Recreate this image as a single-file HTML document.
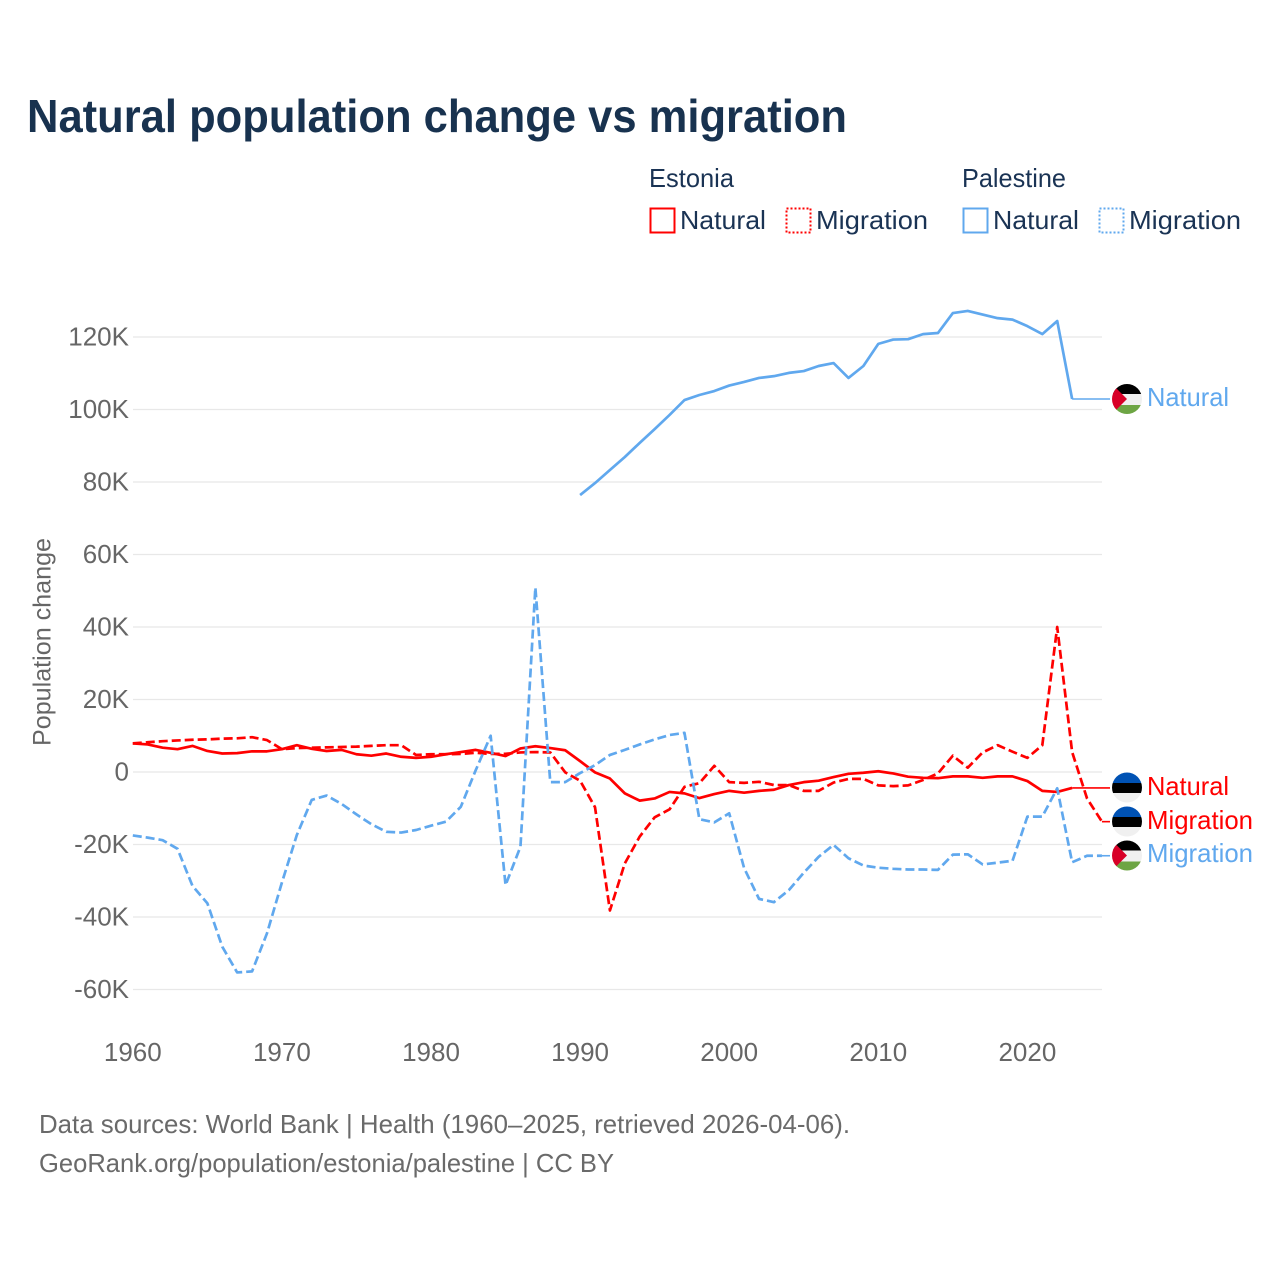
<!DOCTYPE html>
<html lang="en">
<head>
<meta charset="utf-8">
<title>Natural population change vs migration</title>
<style>
  html, body { margin: 0; padding: 0; background: #fff; }
  svg { display: block; font-family: "Liberation Sans", "DejaVu Sans", sans-serif; }
  .tick { fill: #666; font-size: 26px; }
  .leg { fill: #1a3354; font-size: 26px; }
  .foot { fill: #6a6a6a; font-size: 26px; }
  .end { font-size: 26px; }
</style>
</head>
<body>
<svg id="chart" width="1280" height="1280" viewBox="0 0 1280 1280" xmlns="http://www.w3.org/2000/svg">
  <rect width="1280" height="1280" fill="#fff"/>
  <text x="27" y="132" font-size="46" font-weight="700" fill="#18324f" textLength="820" lengthAdjust="spacingAndGlyphs">Natural population change vs migration</text>

  <g>
    <text class="leg" x="649" y="187" textLength="85" lengthAdjust="spacingAndGlyphs">Estonia</text>
    <text class="leg" x="962" y="187" textLength="104" lengthAdjust="spacingAndGlyphs">Palestine</text>
    <rect x="650.5" y="208.5" width="24" height="24" fill="none" stroke="#ff0000" stroke-width="2"/>
    <text class="leg" x="680" y="229" textLength="86" lengthAdjust="spacingAndGlyphs">Natural</text>
    <rect x="786.5" y="208.5" width="24" height="24" fill="none" stroke="#ff0000" stroke-width="2" stroke-dasharray="2,2"/>
    <text class="leg" x="816" y="229" textLength="112" lengthAdjust="spacingAndGlyphs">Migration</text>
    <rect x="963.5" y="208.5" width="24" height="24" fill="none" stroke="#60a8ee" stroke-width="2"/>
    <text class="leg" x="993" y="229" textLength="86" lengthAdjust="spacingAndGlyphs">Natural</text>
    <rect x="1099.5" y="208.5" width="24" height="24" fill="none" stroke="#60a8ee" stroke-width="2" stroke-dasharray="2,2"/>
    <text class="leg" x="1129" y="229" textLength="112" lengthAdjust="spacingAndGlyphs">Migration</text>
  </g>

  <text transform="translate(50.5,642) rotate(-90)" text-anchor="middle" fill="#666" font-size="25" textLength="208" lengthAdjust="spacingAndGlyphs">Population change</text>

  <g id="grid"></g>
  <g id="yticks"></g>
  <g id="xticks"></g>
  <g id="series"></g>

  <defs>
    <clipPath id="flag-clip"><circle cx="0" cy="0" r="15"/></clipPath>
    <g id="flag-estonia" clip-path="url(#flag-clip)">
      <rect x="-15" y="-15" width="30" height="10.5" fill="#0052b4"/>
      <rect x="-15" y="-4.5" width="30" height="10" fill="#000"/>
      <rect x="-15" y="5.5" width="30" height="9.5" fill="#f0f0f0"/>
    </g>
    <g id="flag-palestine" clip-path="url(#flag-clip)">
      <rect x="-15" y="-15" width="30" height="10" fill="#000"/>
      <rect x="-15" y="-5" width="30" height="11" fill="#f0f0f0"/>
      <rect x="-15" y="6" width="30" height="9" fill="#6da544"/>
      <polygon points="-15,-15 0,0 -15,15" fill="#d80027"/>
    </g>
  </defs>

  <g>
    <use href="#flag-palestine" x="1127" y="399"/>
    <text class="end" x="1147" y="406" fill="#60a8ee" textLength="82" lengthAdjust="spacingAndGlyphs">Natural</text>
    <use href="#flag-estonia" x="1127" y="787.5"/>
    <text class="end" x="1147" y="795" fill="#ff0000" textLength="82" lengthAdjust="spacingAndGlyphs">Natural</text>
    <use href="#flag-estonia" x="1127" y="821.5"/>
    <text class="end" x="1147" y="829" fill="#ff0000" textLength="106" lengthAdjust="spacingAndGlyphs">Migration</text>
    <use href="#flag-palestine" x="1127" y="855.5"/>
    <text class="end" x="1147" y="862" fill="#60a8ee" textLength="106" lengthAdjust="spacingAndGlyphs">Migration</text>
  </g>

  <text class="foot" x="39" y="1133" textLength="811" lengthAdjust="spacingAndGlyphs">Data sources: World Bank | Health (1960–2025, retrieved 2026-04-06).</text>
  <text class="foot" x="39" y="1172" textLength="575" lengthAdjust="spacingAndGlyphs">GeoRank.org/population/estonia/palestine | CC BY</text>
</svg>

<script>
const yTickValues = [-60, -40, -20, 0, 20, 40, 60, 80, 100, 120];
const yTickLabels = ["-60K", "-40K", "-20K", "0", "20K", "40K", "60K", "80K", "100K", "120K"];
const xTickYears = [1960, 1970, 1980, 1990, 2000, 2010, 2020];
const xTickLabels = ["1960", "1970", "1980", "1990", "2000", "2010", "2020"];

const estoniaNaturalStart = 1960;
const estoniaNatural = [
  7.9, 7.6, 6.7, 6.3, 7.2, 5.8, 5.1, 5.2, 5.7, 5.7,
  6.3, 7.4, 6.4, 5.8, 6.1, 4.9, 4.5, 5.1, 4.2, 3.9,
  4.2, 4.9, 5.5, 6.1, 5.3, 4.4, 6.5, 7.1, 6.6, 6.0,
  3.0, -0.1, -1.8, -5.9, -7.9, -7.3, -5.5, -5.9, -7.2, -6.1,
  -5.2, -5.7, -5.2, -4.9, -3.6, -2.8, -2.4, -1.4, -0.5, -0.2,
  0.2, -0.4, -1.3, -1.6, -1.7, -1.2, -1.2, -1.6, -1.2, -1.2,
  -2.5, -5.2, -5.5, -4.4
];

const estoniaMigrationStart = 1960;
const estoniaMigration = [
  7.9, 8.2, 8.5, 8.7, 8.9, 9.0, 9.2, 9.3, 9.6, 8.8,
  6.3, 6.6, 6.7, 6.8, 6.9, 7.0, 7.2, 7.4, 7.4, 4.7,
  4.9, 4.9, 5.0, 5.3, 5.0, 5.0, 5.4, 5.5, 5.4, -0.1,
  -2.4, -9.7, -38.2, -25.2, -17.8, -12.5, -10.3, -4.1, -3.1, 1.7,
  -2.8, -3.0, -2.7, -3.6, -3.6, -5.2, -5.2, -2.9, -1.9, -1.9,
  -3.7, -3.9, -3.7, -2.2, -0.4, 4.5, 1.2, 5.4, 7.4, 5.6,
  3.9, 7.4, 40.0, 5.5, -7.3, -13.7
];

const palestineNaturalStart = 1990;
const palestineNatural = [
  76.4, 79.7, 83.3, 86.9, 90.8, 94.6, 98.5, 102.6, 104.0, 105.1,
  106.6, 107.6, 108.7, 109.2, 110.1, 110.6, 112.0, 112.8, 108.7, 112.0,
  118.1, 119.3, 119.4, 120.8, 121.1, 126.6, 127.2, 126.2, 125.2, 124.8,
  123.0, 120.8, 124.4, 102.9
];

const palestineMigrationStart = 1960;
const palestineMigration = [
  -17.5, -18.1, -18.8, -21.2, -31.4, -36.2, -48.2, -55.3, -55.0, -44.5,
  -30.5, -17.4, -7.7, -6.5, -8.8, -11.7, -14.4, -16.5, -16.7, -16.0,
  -14.8, -13.7, -9.6, 0.5, 10.0, -31.2, -20.6, 50.9, -2.8, -2.8,
  -0.3, 1.9, 4.7, 6.1, 7.6, 9.0, 10.2, 10.8, -13.0, -13.9,
  -11.4, -26.5, -35.0, -35.9, -32.6, -27.8, -23.4, -20.1, -23.8, -25.8,
  -26.4, -26.7, -26.9, -26.9, -27.0, -22.8, -22.7, -25.5, -25.0, -24.5,
  -12.3, -12.3, -4.5, -24.9, -23.1, -23.1
];

const NS = "http://www.w3.org/2000/svg";
const RED = "#ff0000";
const BLUE = "#60a8ee";
const CONNECTOR_X = 1110;

function xScale(year) {
  return 132.8 + (year - 1960) * 14.91;
}
function yScale(valueK) {
  return 772 - valueK * 3.625;
}

const gridGroup = document.getElementById("grid");
const yTickGroup = document.getElementById("yticks");
const xTickGroup = document.getElementById("xticks");
const seriesGroup = document.getElementById("series");

yTickValues.forEach(function (value, i) {
  const line = document.createElementNS(NS, "line");
  
  
  line.setAttribute("x1", 133);
  line.setAttribute("x2", 1102);
  line.setAttribute("y1", yScale(value));
  line.setAttribute("y2", yScale(value));
  line.setAttribute("stroke", "#e8e8e8");
  line.setAttribute("stroke-width", "1.2");
  gridGroup.appendChild(line);

  const label = document.createElementNS(NS, "text");
  
  
  label.setAttribute("class", "tick");
  label.setAttribute("x", 129);
  label.setAttribute("y", yScale(value) + 8.5);
  label.setAttribute("text-anchor", "end");
  label.textContent = yTickLabels[i];
  yTickGroup.appendChild(label);
});

xTickYears.forEach(function (year, i) {
  const label = document.createElementNS(NS, "text");
  
  
  label.setAttribute("class", "tick");
  label.setAttribute("x", xScale(year));
  label.setAttribute("y", 1061);
  label.setAttribute("text-anchor", "middle");
  label.textContent = xTickLabels[i];
  xTickGroup.appendChild(label);
});

function linePath(values, startYear) {
  let d = "";
  values.forEach(function (v, i) {
    d += (i === 0 ? "M" : "L") + xScale(startYear + i).toFixed(2) + " " + yScale(v).toFixed(2) + " ";
  });
  return d;
}

function drawSeries(name, values, startYear, color, dashed) {
  const path = document.createElementNS(NS, "path");
  
  
  path.setAttribute("d", linePath(values, startYear));
  path.setAttribute("fill", "none");
  path.setAttribute("stroke", color);
  path.setAttribute("stroke-width", "2.7");
  path.setAttribute("stroke-linejoin", "round");
  if (dashed) {
    path.setAttribute("stroke-dasharray", "9,4");
  }
  seriesGroup.appendChild(path);

  const lastIndex = values.length - 1;
  const connector = document.createElementNS(NS, "line");
  
  
  connector.setAttribute("x1", xScale(startYear + lastIndex));
  connector.setAttribute("x2", CONNECTOR_X);
  connector.setAttribute("y1", yScale(values[lastIndex]));
  connector.setAttribute("y2", yScale(values[lastIndex]));
  connector.setAttribute("stroke", color);
  connector.setAttribute("stroke-width", "1.6");
  seriesGroup.appendChild(connector);
}

drawSeries("line-estonia-natural", estoniaNatural, estoniaNaturalStart, RED, false);
drawSeries("line-estonia-migration", estoniaMigration, estoniaMigrationStart, RED, true);
drawSeries("line-palestine-natural", palestineNatural, palestineNaturalStart, BLUE, false);
drawSeries("line-palestine-migration", palestineMigration, palestineMigrationStart, BLUE, true);
</script>
</body>
</html>
